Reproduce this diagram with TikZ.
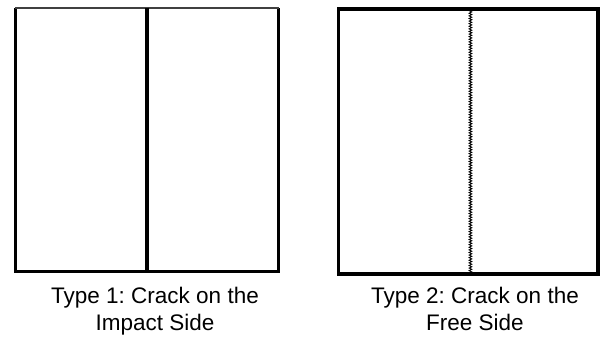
\documentclass[tikz,border=0pt]{standalone}
\usepackage{fontspec}
\setmainfont{Liberation Sans}
\frenchspacing
\usetikzlibrary{decorations.pathmorphing}
\tikzset{
  panel/.style={minimum width=263bp, minimum height=263bp, inner sep=0pt},
  rim/.style={line width=3bp},
  faintrim/.style={line width=1.6bp, black!75},
  cutcrack/.style={line width=3.5bp},
  zigcrack/.style={line width=0.9bp, decorate,
                   decoration={zigzag, segment length=2.6bp, amplitude=1.3bp}},
  caption/.style={anchor=north, align=center, inner sep=0pt,
                  font=\fontsize{22.5bp}{26.5bp}\selectfont},
}
\begin{document}
\begin{tikzpicture}[x=1bp, y=-1bp]
  \useasboundingbox (0,0) rectangle (602,338);
  % type 1: crack on the impact side
  \node[panel] (box1) at (147,139.5) {};
  \draw[rim] (box1.north west) -- (box1.south west) -- (box1.south east) -- (box1.north east);
  \draw[faintrim] (box1.north west) -- (box1.north east);
  \draw[cutcrack] (box1.north) -- (box1.south);
  \node[caption] (cap1) at (155,287) {Type 1: Crack on the\\Impact Side};
  % type 2: crack on the free side
  \node[panel, draw, line width=3.6bp, minimum width=259.5bp, minimum height=265bp] (box2) at (468.25,141.5) {};
  \coordinate (crtop) at ([xshift=2.2bp, yshift=-1.5bp]box2.north);
  \coordinate (crbot) at ([xshift=2.2bp, yshift=2bp]box2.south);
  \draw[zigcrack] (crtop) -- (crbot);
  \node[caption] (cap2) at (475,287) {Type 2: Crack on the\\Free Side};
\end{tikzpicture}
\end{document}
